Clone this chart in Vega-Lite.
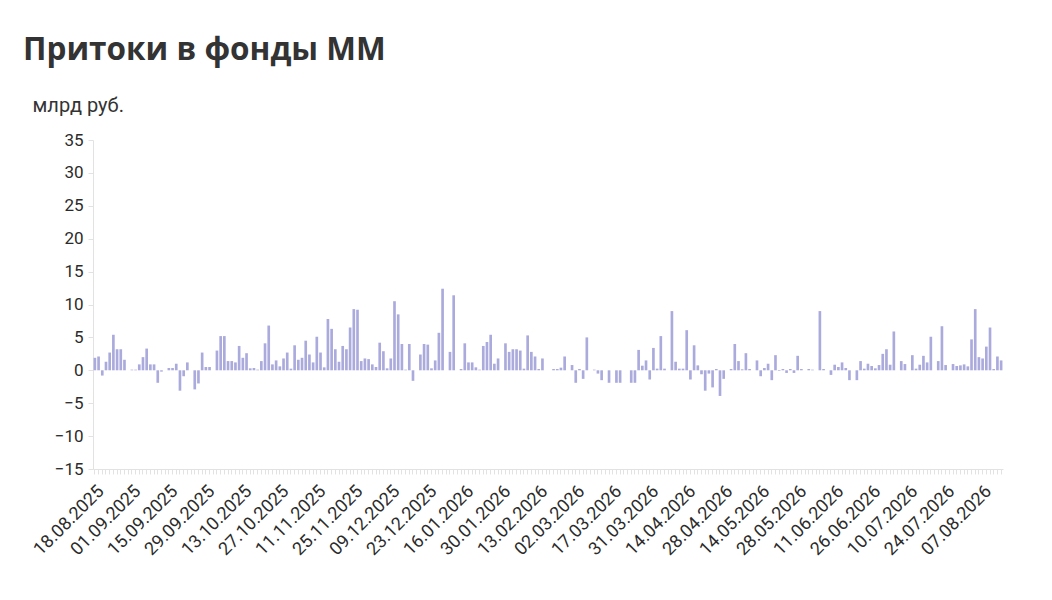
{
  "$schema": "https://vega.github.io/schema/vega-lite/v6.json",
  "width": 910,
  "height": 329,
  "autosize": {"type": "none"},
  "padding": {"left": 93, "top": 140, "right": 49, "bottom": 131},
  "background": "white",
  "title": {
    "text": "Притоки в фонды ММ",
    "anchor": "start",
    "frame": "group",
    "font": "Open Sans",
    "fontSize": 31.5,
    "fontWeight": "bold",
    "color": "#333333",
    "baseline": "alphabetic",
    "dx": -70,
    "offset": 4
  },
  "config": {
    "view": {"stroke": null},
    "axis": {"grid": false, "labelFont": "Roboto", "titleFont": "Roboto"}
  },
  "data": {
    "values": [
      {"date": "18.08.2025", "value": 1.9}, {"date": "19.08.2025", "value": 2.1}, {"date": "20.08.2025", "value": -0.8},
      {"date": "21.08.2025", "value": 1.3}, {"date": "22.08.2025", "value": 2.7}, {"date": "25.08.2025", "value": 5.4},
      {"date": "26.08.2025", "value": 3.2}, {"date": "27.08.2025", "value": 3.2}, {"date": "28.08.2025", "value": 1.6},
      {"date": "29.08.2025", "value": 0}, {"date": "01.09.2025", "value": 0.1}, {"date": "02.09.2025", "value": 0.1},
      {"date": "03.09.2025", "value": 0.9}, {"date": "04.09.2025", "value": 2.0}, {"date": "05.09.2025", "value": 3.3},
      {"date": "08.09.2025", "value": 0.9}, {"date": "09.09.2025", "value": 0.9}, {"date": "10.09.2025", "value": -1.9},
      {"date": "11.09.2025", "value": -0.2}, {"date": "12.09.2025", "value": 0}, {"date": "15.09.2025", "value": 0.35},
      {"date": "16.09.2025", "value": 0.35}, {"date": "17.09.2025", "value": 1.0}, {"date": "18.09.2025", "value": -3.1},
      {"date": "19.09.2025", "value": -0.9}, {"date": "22.09.2025", "value": 1.2}, {"date": "23.09.2025", "value": 0},
      {"date": "24.09.2025", "value": -2.9}, {"date": "25.09.2025", "value": -2.0}, {"date": "26.09.2025", "value": 2.7},
      {"date": "29.09.2025", "value": 0.5}, {"date": "30.09.2025", "value": 0.5}, {"date": "01.10.2025", "value": 0},
      {"date": "02.10.2025", "value": 3.0}, {"date": "03.10.2025", "value": 5.2}, {"date": "06.10.2025", "value": 5.2},
      {"date": "07.10.2025", "value": 1.4}, {"date": "08.10.2025", "value": 1.4}, {"date": "09.10.2025", "value": 1.2},
      {"date": "10.10.2025", "value": 3.7}, {"date": "13.10.2025", "value": 1.9}, {"date": "14.10.2025", "value": 2.6},
      {"date": "15.10.2025", "value": 0.3}, {"date": "16.10.2025", "value": 0.35}, {"date": "17.10.2025", "value": 0.1},
      {"date": "20.10.2025", "value": 1.4}, {"date": "21.10.2025", "value": 4.1}, {"date": "22.10.2025", "value": 6.8},
      {"date": "23.10.2025", "value": 0.9}, {"date": "24.10.2025", "value": 1.5}, {"date": "27.10.2025", "value": 0.6},
      {"date": "28.10.2025", "value": 1.8}, {"date": "29.10.2025", "value": 2.7}, {"date": "30.10.2025", "value": 0.25},
      {"date": "31.10.2025", "value": 3.8}, {"date": "01.11.2025", "value": 1.6}, {"date": "05.11.2025", "value": 1.9},
      {"date": "06.11.2025", "value": 4.5}, {"date": "07.11.2025", "value": 2.4}, {"date": "10.11.2025", "value": 1.2},
      {"date": "11.11.2025", "value": 5.1}, {"date": "12.11.2025", "value": 2.7}, {"date": "13.11.2025", "value": 0.45},
      {"date": "14.11.2025", "value": 7.8}, {"date": "17.11.2025", "value": 6.3}, {"date": "18.11.2025", "value": 3.2},
      {"date": "19.11.2025", "value": 1.3}, {"date": "20.11.2025", "value": 3.7}, {"date": "21.11.2025", "value": 3.2},
      {"date": "24.11.2025", "value": 6.5}, {"date": "25.11.2025", "value": 9.3}, {"date": "26.11.2025", "value": 9.2},
      {"date": "27.11.2025", "value": 1.4}, {"date": "28.11.2025", "value": 1.8}, {"date": "01.12.2025", "value": 1.7},
      {"date": "02.12.2025", "value": 0.9}, {"date": "03.12.2025", "value": 0.5}, {"date": "04.12.2025", "value": 4.2},
      {"date": "05.12.2025", "value": 2.9}, {"date": "08.12.2025", "value": 0.3}, {"date": "09.12.2025", "value": 1.8},
      {"date": "10.12.2025", "value": 10.5}, {"date": "11.12.2025", "value": 8.5}, {"date": "12.12.2025", "value": 4.0},
      {"date": "15.12.2025", "value": 0.1}, {"date": "16.12.2025", "value": 4.0}, {"date": "17.12.2025", "value": -1.6},
      {"date": "18.12.2025", "value": 0}, {"date": "19.12.2025", "value": 2.4}, {"date": "22.12.2025", "value": 4.0},
      {"date": "23.12.2025", "value": 3.9}, {"date": "24.12.2025", "value": 0.3}, {"date": "25.12.2025", "value": 1.5},
      {"date": "26.12.2025", "value": 5.7}, {"date": "29.12.2025", "value": 12.4}, {"date": "30.12.2025", "value": 0},
      {"date": "12.01.2026", "value": 2.8}, {"date": "13.01.2026", "value": 11.4}, {"date": "14.01.2026", "value": 0},
      {"date": "15.01.2026", "value": 0.2}, {"date": "16.01.2026", "value": 4.1}, {"date": "19.01.2026", "value": 1.2},
      {"date": "20.01.2026", "value": 1.2}, {"date": "21.01.2026", "value": 0.45}, {"date": "22.01.2026", "value": 0.1},
      {"date": "23.01.2026", "value": 3.7}, {"date": "26.01.2026", "value": 4.3}, {"date": "27.01.2026", "value": 5.4},
      {"date": "28.01.2026", "value": 1.0}, {"date": "29.01.2026", "value": 1.8}, {"date": "30.01.2026", "value": 0},
      {"date": "02.02.2026", "value": 4.1}, {"date": "03.02.2026", "value": 2.8}, {"date": "04.02.2026", "value": 3.2},
      {"date": "05.02.2026", "value": 3.2}, {"date": "06.02.2026", "value": 3.0}, {"date": "09.02.2026", "value": 0.25},
      {"date": "10.02.2026", "value": 5.3}, {"date": "11.02.2026", "value": 2.8}, {"date": "12.02.2026", "value": 2.1},
      {"date": "13.02.2026", "value": 0.2}, {"date": "16.02.2026", "value": 1.8}, {"date": "17.02.2026", "value": 0},
      {"date": "18.02.2026", "value": 0}, {"date": "19.02.2026", "value": 0.2}, {"date": "20.02.2026", "value": 0.2},
      {"date": "24.02.2026", "value": 0.4}, {"date": "25.02.2026", "value": 2.1}, {"date": "26.02.2026", "value": 0},
      {"date": "27.02.2026", "value": 0.8}, {"date": "02.03.2026", "value": -1.9}, {"date": "03.03.2026", "value": 0.2},
      {"date": "04.03.2026", "value": -1.3}, {"date": "05.03.2026", "value": 5.0}, {"date": "06.03.2026", "value": 0},
      {"date": "10.03.2026", "value": 0.1}, {"date": "11.03.2026", "value": -0.5}, {"date": "12.03.2026", "value": -1.5},
      {"date": "13.03.2026", "value": 0}, {"date": "16.03.2026", "value": -1.9}, {"date": "17.03.2026", "value": 0},
      {"date": "18.03.2026", "value": -1.9}, {"date": "19.03.2026", "value": -1.9}, {"date": "20.03.2026", "value": 0},
      {"date": "23.03.2026", "value": 0}, {"date": "24.03.2026", "value": -1.9}, {"date": "25.03.2026", "value": -1.9},
      {"date": "26.03.2026", "value": 3.1}, {"date": "27.03.2026", "value": 0.7}, {"date": "30.03.2026", "value": 1.5},
      {"date": "31.03.2026", "value": -1.4}, {"date": "01.04.2026", "value": 3.4}, {"date": "02.04.2026", "value": 0.25},
      {"date": "03.04.2026", "value": 5.2}, {"date": "06.04.2026", "value": 0.25}, {"date": "07.04.2026", "value": 0},
      {"date": "08.04.2026", "value": 9.0}, {"date": "09.04.2026", "value": 1.3}, {"date": "10.04.2026", "value": 0.25},
      {"date": "13.04.2026", "value": 0.25}, {"date": "14.04.2026", "value": 6.1}, {"date": "15.04.2026", "value": -1.4},
      {"date": "16.04.2026", "value": 3.8}, {"date": "17.04.2026", "value": 0.75}, {"date": "20.04.2026", "value": -0.6},
      {"date": "21.04.2026", "value": -3.1}, {"date": "22.04.2026", "value": -0.5}, {"date": "23.04.2026", "value": -2.6},
      {"date": "24.04.2026", "value": 0.2}, {"date": "27.04.2026", "value": -3.9}, {"date": "28.04.2026", "value": -1.3},
      {"date": "29.04.2026", "value": 0}, {"date": "30.04.2026", "value": 0.2}, {"date": "04.05.2026", "value": 4.0},
      {"date": "05.05.2026", "value": 1.4}, {"date": "06.05.2026", "value": 0.15}, {"date": "07.05.2026", "value": 2.6},
      {"date": "08.05.2026", "value": 0.2}, {"date": "12.05.2026", "value": 0}, {"date": "13.05.2026", "value": 1.5},
      {"date": "14.05.2026", "value": -0.9}, {"date": "15.05.2026", "value": 0.35}, {"date": "18.05.2026", "value": 1.0},
      {"date": "19.05.2026", "value": -1.5}, {"date": "20.05.2026", "value": 2.3}, {"date": "21.05.2026", "value": -0.1},
      {"date": "22.05.2026", "value": 0.2}, {"date": "25.05.2026", "value": -0.4}, {"date": "26.05.2026", "value": 0.2},
      {"date": "27.05.2026", "value": -0.4}, {"date": "28.05.2026", "value": 2.2}, {"date": "29.05.2026", "value": 0.2},
      {"date": "01.06.2026", "value": 0}, {"date": "02.06.2026", "value": 0.2}, {"date": "03.06.2026", "value": 0.1},
      {"date": "04.06.2026", "value": 0}, {"date": "05.06.2026", "value": 9.0}, {"date": "08.06.2026", "value": 0.2},
      {"date": "09.06.2026", "value": 0}, {"date": "10.06.2026", "value": -0.7}, {"date": "11.06.2026", "value": 0.85},
      {"date": "15.06.2026", "value": 0.5}, {"date": "16.06.2026", "value": 1.2}, {"date": "17.06.2026", "value": 0.35},
      {"date": "18.06.2026", "value": -1.5}, {"date": "19.06.2026", "value": 0}, {"date": "22.06.2026", "value": -1.5},
      {"date": "23.06.2026", "value": 1.4}, {"date": "24.06.2026", "value": 0.25}, {"date": "25.06.2026", "value": 1.0},
      {"date": "26.06.2026", "value": 0.65}, {"date": "29.06.2026", "value": 0.3}, {"date": "30.06.2026", "value": 0.8},
      {"date": "01.07.2026", "value": 2.5}, {"date": "02.07.2026", "value": 3.2}, {"date": "03.07.2026", "value": 0.85},
      {"date": "06.07.2026", "value": 5.9}, {"date": "07.07.2026", "value": 0}, {"date": "08.07.2026", "value": 1.4},
      {"date": "09.07.2026", "value": 0.95}, {"date": "10.07.2026", "value": 0}, {"date": "13.07.2026", "value": 2.3},
      {"date": "14.07.2026", "value": 0.25}, {"date": "15.07.2026", "value": 0.85}, {"date": "16.07.2026", "value": 2.2},
      {"date": "17.07.2026", "value": 1.2}, {"date": "20.07.2026", "value": 5.1}, {"date": "21.07.2026", "value": 0},
      {"date": "22.07.2026", "value": 1.4}, {"date": "23.07.2026", "value": 6.7}, {"date": "24.07.2026", "value": 0.8},
      {"date": "27.07.2026", "value": 0}, {"date": "28.07.2026", "value": 0.95}, {"date": "29.07.2026", "value": 0.65},
      {"date": "30.07.2026", "value": 0.75}, {"date": "31.07.2026", "value": 0.9}, {"date": "03.08.2026", "value": 0.6},
      {"date": "04.08.2026", "value": 4.7}, {"date": "05.08.2026", "value": 9.3}, {"date": "06.08.2026", "value": 2.0},
      {"date": "07.08.2026", "value": 1.8}, {"date": "10.08.2026", "value": 3.6}, {"date": "11.08.2026", "value": 6.5},
      {"date": "12.08.2026", "value": 0.2}, {"date": "13.08.2026", "value": 2.1}, {"date": "14.08.2026", "value": 1.5}
    ]
  },
  "mark": {"type": "bar", "color": "#aaaadd"},
  "encoding": {
    "x": {
      "field": "date",
      "type": "ordinal",
      "sort": null,
      "scale": {"paddingInner": 0.28, "paddingOuter": 0.15},
      "axis": {
        "title": null,
        "labelAngle": -45,
        "labelAlign": "right",
        "labelBaseline": "top",
        "labelFontSize": 18,
        "labelColor": "#2b2b2b",
        "labelPadding": 8,
        "labelOverlap": false,
        "labelBound": false,
        "labelExpr": "indexof(['18.08.2025','01.09.2025','15.09.2025','29.09.2025','13.10.2025','27.10.2025','11.11.2025','25.11.2025','09.12.2025','23.12.2025','16.01.2026','30.01.2026','13.02.2026','02.03.2026','17.03.2026','31.03.2026','14.04.2026','28.04.2026','14.05.2026','28.05.2026','11.06.2026','26.06.2026','10.07.2026','24.07.2026','07.08.2026'], datum.value) >= 0 ? datum.label : ''",
        "domainColor": "#e2e2e2",
        "tickColor": "#e2e2e2",
        "tickSize": 5
      }
    },
    "y": {
      "field": "value",
      "type": "quantitative",
      "scale": {"domain": [-15, 35], "nice": false},
      "axis": {
        "values": [-15, -10, -5, 0, 5, 10, 15, 20, 25, 30, 35],
        "title": "млрд руб.",
        "titleAngle": 0,
        "titleAlign": "left",
        "titleBaseline": "alphabetic",
        "titleX": -61,
        "titleY": -29,
        "titleFontSize": 20,
        "titleFontWeight": "normal",
        "titleColor": "#333333",
        "labelFontSize": 17,
        "labelColor": "#2b2b2b",
        "labelPadding": 5,
        "domainColor": "#e2e2e2",
        "tickColor": "#e2e2e2",
        "tickSize": 5
      }
    }
  }
}
